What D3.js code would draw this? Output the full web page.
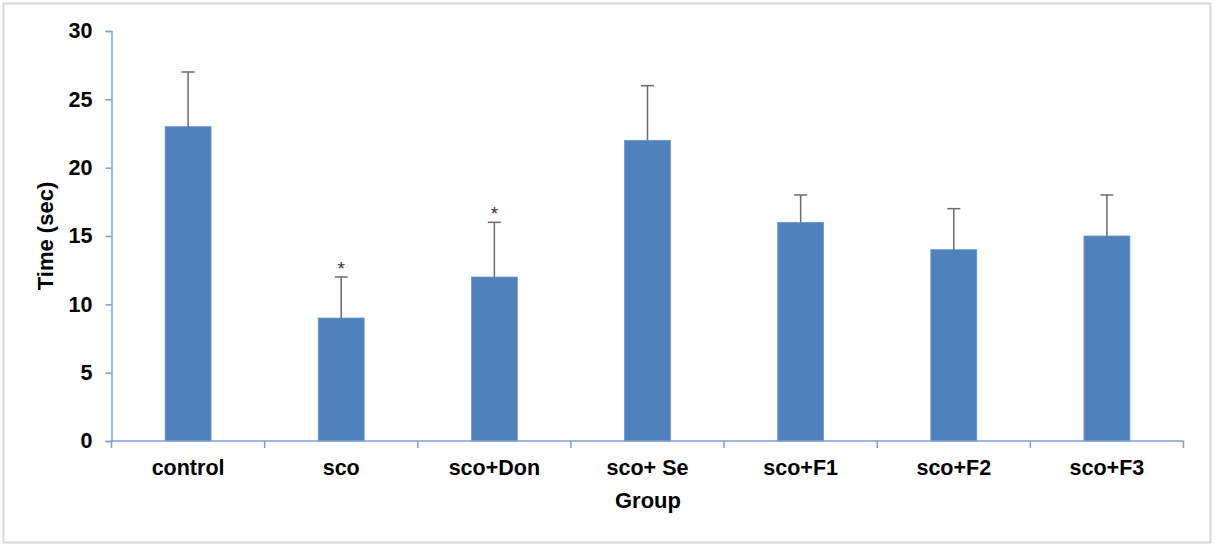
<!DOCTYPE html>
<html><head><meta charset="utf-8">
<script src="https://cdn.jsdelivr.net/npm/d3@7"></script>
<style>body{margin:0;background:#fff}svg{display:block}text{font-family:"Liberation Sans",Arial,sans-serif}</style>
</head><body>
<script>
const categories = ["control","sco","sco+Don","sco+ Se","sco+F1","sco+F2","sco+F3"];
const means = [23, 9, 12, 22, 16, 14, 15];
const errors = [4, 3, 4, 4, 2, 3, 3];
const marks = ["", "*", "*", "", "", "", ""];
const yTicks = [0,5,10,15,20,25,30];

const W = 1217, H = 547;
const svg = d3.select("body").append("svg").attr("width", W).attr("height", H);
svg.append("rect").attr("x",3.5).attr("y",3.5).attr("width",1207).attr("height",539)
  .attr("fill","#fff").attr("stroke","#d9d9d9").attr("stroke-width",2);

const x0 = 111.5, x1 = 1183.5, yTop = 31, yBot = 441;
const x = d3.scaleBand().domain(categories).range([x0, x1]).paddingInner(0.7).paddingOuter(0.35);
const y = d3.scaleLinear().domain([0, 30]).range([yBot, yTop]);
const axisColor = "#7c9fd3";

svg.selectAll("rect.bar").data(categories).enter().append("rect")
  .attr("x", d => x(d)).attr("width", x.bandwidth())
  .attr("y", (d,i) => y(means[i])).attr("height", (d,i) => y(0) - y(means[i]))
  .attr("fill", "#4f81bd").attr("stroke","#6d97cc").attr("stroke-width",0.8);

const eg = svg.append("g").attr("stroke", "#6b6b6b").attr("stroke-width", 1.5);
categories.forEach((c,i) => {
  const cx = x(c) + x.bandwidth()/2;
  eg.append("line").attr("x1",cx).attr("x2",cx).attr("y1",y(means[i])).attr("y2",y(means[i]+errors[i]));
  eg.append("line").attr("x1",cx-6.5).attr("x2",cx+6.5).attr("y1",y(means[i]+errors[i])).attr("y2",y(means[i]+errors[i]));
  if (marks[i]) svg.append("text").attr("x",cx).attr("y",y(means[i]+errors[i])-2)
    .attr("text-anchor","middle").attr("font-size",19).attr("fill","#333").text(marks[i]);
});

const yAxis = svg.append("g").attr("transform",`translate(${x0},0)`)
  .call(d3.axisLeft(y).tickValues(yTicks).tickSize(6).tickPadding(13));
yAxis.select(".domain").attr("stroke",axisColor).attr("stroke-width",1.5);
yAxis.selectAll(".tick line").attr("stroke",axisColor).attr("stroke-width",1.5);
yAxis.selectAll(".tick text").attr("font-size",21.5).attr("font-weight","bold").attr("fill","#000")
  .attr("font-family","Liberation Sans, Arial, sans-serif");

const xg = svg.append("g").attr("transform",`translate(0,${yBot})`);
xg.append("line").attr("x1",x0).attr("x2",x1).attr("stroke",axisColor).attr("stroke-width",1.5);
const bounds = d3.range(categories.length+1).map(i => x0 + i*x.step());
xg.selectAll("line.t").data(bounds).enter().append("line")
  .attr("x1",d=>d).attr("x2",d=>d).attr("y1",0).attr("y2",7).attr("stroke",axisColor).attr("stroke-width",1.5);
xg.selectAll("text.c").data(categories).enter().append("text")
  .attr("x", d => x(d)+x.bandwidth()/2).attr("y", 34).attr("text-anchor","middle")
  .attr("font-size",21.5).attr("font-weight","bold").attr("fill","#000").text(d=>d);

svg.append("text").attr("x",(x0+x1)/2+0.5).attr("y",508).attr("text-anchor","middle")
  .attr("font-size",22).attr("font-weight","bold").text("Group");
svg.append("text").attr("transform","translate(53,236) rotate(-90)").attr("text-anchor","middle")
  .attr("font-size",22).attr("font-weight","bold").text("Time (sec)");
</script>
</body></html>
